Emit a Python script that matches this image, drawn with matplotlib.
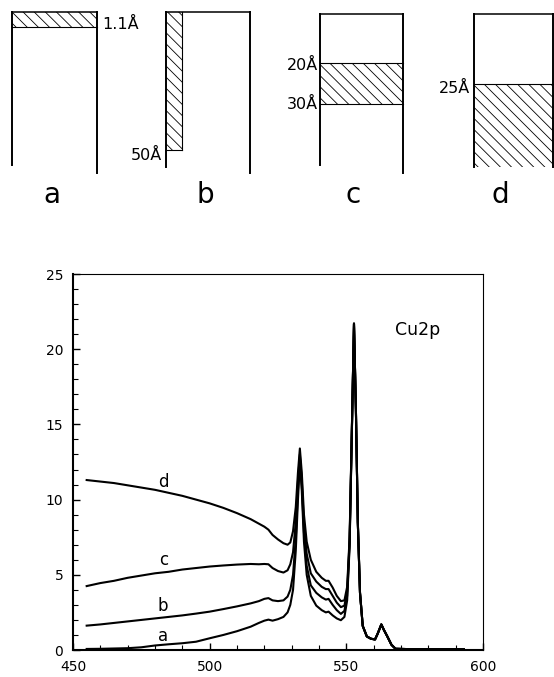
import matplotlib
matplotlib.use('Agg')
import matplotlib.pyplot as plt
from matplotlib.patches import Rectangle
from matplotlib.ticker import MultipleLocator

plt.rcParams['font.family'] = ['DejaVu Sans']
plt.rcParams['hatch.linewidth'] = 0.6

# photon energy grid (eV)
energy = [455, 460, 465, 470, 475, 480, 485, 490, 495, 500, 505, 510, 515, 518, 520,
          521.5, 523, 525, 527, 528.5, 529.5, 530.5, 531.5, 532.3, 533, 533.7, 534.5,
          535.5, 537, 539, 541, 542.5, 543.5, 545, 546.5, 548, 549.3, 550.3, 551.2,
          552, 552.8, 553.5, 554.2, 555, 556, 557.5, 559, 560.5, 561.5, 562.8, 563.7,
          565, 566.5, 568, 575, 585, 593]

# shared tail after the 553 eV peak
tail = [16, 8.5, 3.8, 1.6, 0.9, 0.75, 0.7, 1.1, 1.7, 1.35, 0.9, 0.35, 0.08, 0.05, 0.05, 0.04]

curve_d = [11.3, 11.2, 11.1, 10.95, 10.8, 10.65, 10.45, 10.25, 10.0, 9.75, 9.45, 9.1, 8.7,
           8.4, 8.2, 8.0, 7.65, 7.35, 7.1, 7.0, 7.15, 7.9, 9.5, 11.8, 13.4, 11.8, 9.0,
           7.2, 6.0, 5.2, 4.8, 4.6, 4.6, 4.15, 3.6, 3.25, 3.3, 4.2, 7.5, 14.5, 21.7] + tail
curve_c = [4.25, 4.45, 4.6, 4.8, 4.95, 5.1, 5.2, 5.35, 5.45, 5.55, 5.62, 5.68, 5.72,
           5.7, 5.72, 5.7, 5.45, 5.25, 5.15, 5.3, 5.7, 6.5, 8.5, 11.2, 13.0, 11.3, 8.3,
           6.4, 5.1, 4.55, 4.2, 4.05, 4.05, 3.6, 3.15, 2.85, 2.95, 3.9, 7.3, 14.4, 21.7] + tail
curve_b = [1.62, 1.7, 1.8, 1.9, 2.0, 2.1, 2.2, 2.3, 2.42, 2.55, 2.72, 2.9, 3.1,
           3.25, 3.4, 3.45, 3.3, 3.25, 3.3, 3.55, 4.0, 5.0, 7.4, 10.6, 12.8, 11.0, 7.8,
           5.6, 4.3, 3.8, 3.5, 3.35, 3.4, 3.0, 2.65, 2.4, 2.6, 3.6, 7.1, 14.3, 21.7] + tail
curve_a = [0.07, 0.08, 0.1, 0.12, 0.18, 0.3, 0.38, 0.45, 0.55, 0.78, 1.0, 1.25, 1.55,
           1.8, 1.95, 2.02, 1.95, 2.05, 2.2, 2.5, 3.0, 4.0, 6.6, 10.0, 12.5, 10.6, 7.2,
           5.0, 3.6, 2.95, 2.65, 2.5, 2.55, 2.3, 2.1, 1.98, 2.2, 3.3, 6.9, 14.3, 21.7] + tail

curves = {'a': curve_a, 'b': curve_b, 'c': curve_c, 'd': curve_d}
label_pos = {'a': (483, 0.9), 'b': (483, 2.9), 'c': (483, 6.0), 'd': (483, 11.2)}

fig = plt.figure(figsize=(5.54, 6.77), dpi=100)

# --- schematic of the layers (pixel coordinates) ---
top = fig.add_axes([0, 0, 1, 1])
top.set_xlim(0, 554)
top.set_ylim(677, 0)
top.axis('off')

HATCH = '\\\\\\'


def box(x0, x1, y_top, y_left, y_right):
    top.plot([x0, x0], [y_top, y_left], color='black', lw=1.4)
    top.plot([x1, x1], [y_top, y_right], color='black', lw=1.4)
    top.plot([x0, x1], [y_top, y_top], color='black', lw=1.1)


def band(x0, x1, y0, y1, edges):
    top.add_patch(Rectangle((x0, y0), x1 - x0, y1 - y0, fill=False, hatch=HATCH,
                            lw=0, edgecolor='black'))
    for (xa, xb, ya, yb) in edges:
        top.plot([xa, xb], [ya, yb], color='black', lw=0.8)


# a
box(11.7, 96.7, 12.3, 165, 173)
band(11.7, 96.7, 12.3, 26.7, [(11.7, 96.7, 26.7, 26.7)])
top.text(102, 24, '1.1Å', fontsize=11.5, ha='left', va='center')
# b
box(165.7, 250, 12.3, 166.7, 173)
band(165.7, 181.7, 12.3, 150, [(181.7, 181.7, 12.3, 150), (165.7, 181.7, 150, 150)])
top.text(162, 155, '50Å', fontsize=11.5, ha='right', va='center')
# c
box(320, 403.3, 14, 165, 173)
band(320, 403.3, 63.3, 104.3, [(320, 403.3, 63.3, 63.3), (320, 403.3, 104.3, 104.3)])
top.text(318, 65, '20Å', fontsize=11.5, ha='right', va='center')
top.text(318, 104, '30Å', fontsize=11.5, ha='right', va='center')
# d
box(474, 553, 14, 167, 167)
band(474, 553, 84, 167, [(474, 553, 84, 84)])
top.text(470, 88, '25Å', fontsize=11.5, ha='right', va='center')

for name, xc in zip(['a', 'b', 'c', 'd'], [52, 205, 353, 500]):
    top.text(xc, 195, name, fontsize=20, ha='center', va='center')

# --- spectra ---
ax = fig.add_axes([73 / 554, 27 / 677, 410 / 554, 376 / 677])
for name, vals in curves.items():
    ax.plot(energy, vals, color='black', lw=1.5)
    x, y = label_pos[name]
    ax.text(x, y, name, fontsize=12, ha='center', va='center')

ax.text(576, 21.3, 'Cu2p', fontsize=12.5, ha='center', va='center')

ax.set_xlim(450, 600)
ax.set_ylim(0, 25)
ax.xaxis.set_major_locator(MultipleLocator(50))
ax.xaxis.set_minor_locator(MultipleLocator(10))
ax.yaxis.set_major_locator(MultipleLocator(5))
ax.yaxis.set_minor_locator(MultipleLocator(1))
ax.tick_params(which='both', direction='in', top=False, right=False, labelsize=10, pad=7)
ax.tick_params(which='major', length=5, width=1)
ax.tick_params(which='minor', length=3.5, width=0.8)
ax.spines['left'].set_linewidth(1.5)
ax.spines['bottom'].set_linewidth(1.5)
ax.spines['top'].set_linewidth(0.8)
ax.spines['right'].set_linewidth(0.8)

fig.savefig('out.png', dpi=100)
